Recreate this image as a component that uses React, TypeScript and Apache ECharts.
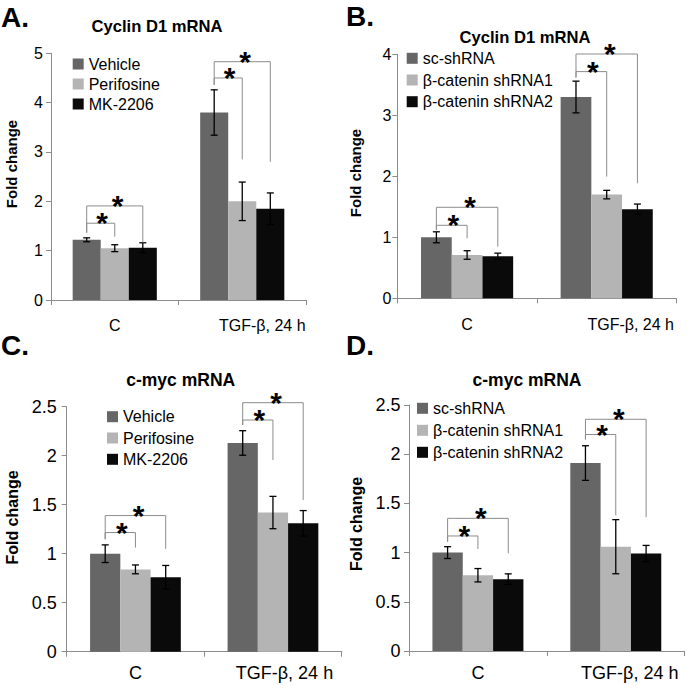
import React, { useEffect, useRef } from "react";
import * as echarts from "echarts";

// ---------- data ----------
const categories = ["C", "TGF-β, 24 h"];

const namesAC = ["Vehicle", "Perifosine", "MK-2206"];
const namesBD = ["sc-shRNA", "β-catenin shRNA1", "β-catenin shRNA2"];

// Panel A: Cyclin D1 mRNA (Akt inhibitors)
const aVehicle = [1.22, 3.8];
const aVehicleErr = [0.04, 0.46];
const aPerifosine = [1.05, 2.0];
const aPerifosineErr = [0.07, 0.39];
const aMK2206 = [1.06, 1.85];
const aMK2206Err = [0.1, 0.32];
// [category, fromBar, toBar, leftBottom, level, rightBottom]
const aBrackets = [
  [0, 0, 1, 1.365, 1.556, 1.284],
  [0, 0, 2, 1.365, 1.907, 1.162],
  [1, 0, 1, 4.36, 4.5, 2.85],
  [1, 0, 2, 4.36, 4.83, 2.8],
];

// Panel B: Cyclin D1 mRNA (beta-catenin shRNA)
const bSc = [1.0, 3.3];
const bScErr = [0.09, 0.26];
const bSh1 = [0.71, 1.7];
const bSh1Err = [0.07, 0.07];
const bSh2 = [0.69, 1.46];
const bSh2Err = [0.05, 0.085];
const bBrackets = [
  [0, 0, 1, 1.12, 1.197, 0.984],
  [0, 0, 2, 1.12, 1.492, 0.847],
  [1, 0, 1, 3.62, 3.716, 1.995],
  [1, 0, 2, 3.62, 4.005, 1.885],
];

// Panel C: c-myc mRNA (Akt inhibitors)
const cVehicle = [1.0, 2.13];
const cVehicleErr = [0.09, 0.125];
const cPerifosine = [0.84, 1.42];
const cPerifosineErr = [0.045, 0.165];
const cMK2206 = [0.76, 1.31];
const cMK2206Err = [0.12, 0.13];
const cBrackets = [
  [0, 0, 1, 1.148, 1.216, 1.062],
  [0, 0, 2, 1.148, 1.389, 1.049],
  [1, 0, 1, 2.313, 2.364, 1.956],
  [1, 0, 2, 2.313, 2.541, 1.548],
];

// Panel D: c-myc mRNA (beta-catenin shRNA)
const dSc = [1.0, 1.91];
const dScErr = [0.06, 0.176];
const dSh1 = [0.77, 1.06];
const dSh1Err = [0.068, 0.275];
const dSh2 = [0.73, 0.99];
const dSh2Err = [0.054, 0.083];
const dBrackets = [
  [0, 0, 1, 1.111, 1.169, 1.037],
  [0, 0, 2, 1.111, 1.348, 0.993],
  [1, 0, 1, 2.15, 2.2, 1.38],
  [1, 0, 2, 2.15, 2.355, 1.36],
];

const yMaxA = 5, yStepA = 1;
const yMaxB = 4, yStepB = 1;
const yMaxC = 2.5, yStepC = 0.5;
const yMaxD = 2.5, yStepD = 0.5;

// ---------- styling / layout ----------
const FONT = '"Liberation Sans", Arial, Helvetica, sans-serif';
const COLORS = ["#666666", "#b4b4b4", "#0a0a0a"];
const AX = "#8c8c8c";
const BAR_FRAC = 0.22;

const panels = [
  {
    label: "A.", labelPos: [1, 17], title: "Cyclin D1 mRNA", titlePos: [157, 26.5], titleFont: 16.6,
    yNamePos: [11.5, 164], yNameFont: 15,
    grid: [51, 53.3, 255, 246.7], max: yMaxA, interval: yStepA, tickFont: 16, yMargin: 8, xMargin: 17, tgfShift: 40,
    legend: [72.7, 56, 4],
    names: namesAC, values: [aVehicle, aPerifosine, aMK2206], errs: [aVehicleErr, aPerifosineErr, aMK2206Err], brackets: aBrackets,
  },
  {
    label: "B.", labelPos: [346, 16.5], title: "Cyclin D1 mRNA", titlePos: [525, 37], titleFont: 16.6,
    yNamePos: [355, 173], yNameFont: 15,
    grid: [397.3, 54.3, 279.2, 244], max: yMaxB, interval: yStepB, tickFont: 16, yMargin: 6, xMargin: 18, tgfShift: 48,
    legend: [406.7, 50.3, 5.7],
    names: namesBD, values: [bSc, bSh1, bSh2], errs: [bScErr, bSh1Err, bSh2Err], brackets: bBrackets,
  },
  {
    label: "C.", labelPos: [1, 345.5], title: "c-myc mRNA", titlePos: [180.7, 379.7], titleFont: 17.5,
    yNamePos: [12, 517.5], yNameFont: 16,
    grid: [66.7, 406.7, 275, 245], max: yMaxC, interval: yStepC, tickFont: 18, yMargin: 10, xMargin: 12, tgfShift: 23,
    legend: [107, 408.7, 5.3],
    names: namesAC, values: [cVehicle, cPerifosine, cMK2206], errs: [cVehicleErr, cPerifosineErr, cMK2206Err], brackets: cBrackets,
  },
  {
    label: "D.", labelPos: [346, 345.5], title: "c-myc mRNA", titlePos: [527, 380], titleFont: 17.5,
    yNamePos: [356.7, 524], yNameFont: 16,
    grid: [409, 405, 275.7, 246], max: yMaxD, interval: yStepD, tickFont: 18, yMargin: 8.5, xMargin: 13, tgfShift: 28,
    legend: [417, 400.3, 6],
    names: namesBD, values: [dSc, dSh1, dSh2], errs: [dScErr, dSh1Err, dSh2Err], brackets: dBrackets,
  },
];

function renderError(params: any, api: any) {
  const c = api.value(0);
  const i = api.value(1);
  const v = api.value(2);
  const e = api.value(3);
  const band = api.size([1, 0])[0];
  const bw = band * BAR_FRAC;
  const x = api.coord([c, v])[0] + (i - 1) * bw;
  const y1 = api.coord([c, v + e])[1];
  const y2 = api.coord([c, v - e])[1];
  const cap = 3.5;
  const style = { stroke: "#000", lineWidth: 1.3 };
  return {
    type: "group",
    children: [
      { type: "line", shape: { x1: x, y1: y1, x2: x, y2: y2 }, style },
      { type: "line", shape: { x1: x - cap, y1: y1, x2: x + cap, y2: y1 }, style },
      { type: "line", shape: { x1: x - cap, y1: y2, x2: x + cap, y2: y2 }, style },
    ],
  };
}

function renderBracket(params: any, api: any) {
  const c = api.value(0);
  const from = api.value(1);
  const to = api.value(2);
  const lb = api.value(3);
  const lv = api.value(4);
  const rb = api.value(5);
  const band = api.size([1, 0])[0];
  const bw = band * BAR_FRAC;
  const cx = api.coord([c, lv])[0];
  const x0 = cx + (from - 1) * bw;
  const x1 = cx + (to - 1) * bw;
  const yl = api.coord([c, lb])[1];
  const yv = api.coord([c, lv])[1];
  const yr = api.coord([c, rb])[1];
  return {
    type: "group",
    children: [
      {
        type: "polyline",
        shape: { points: [[x0, yl], [x0, yv], [x1, yv], [x1, yr]] },
        style: { stroke: AX, lineWidth: 1, fill: "none" },
      },
      {
        type: "text",
        x: x0 + 0.55 * (x1 - x0),
        y: yv - 0.5,
        style: {
          text: "*",
          font: `bold 30px ${FONT}`,
          fill: "#000",
          align: "center",
          verticalAlign: "middle",
        },
      },
    ],
  };
}

function buildOption() {
  const series: any[] = [];
  panels.forEach((p, i) => {
    p.names.forEach((n, k) => {
      series.push({
        type: "bar",
        name: n,
        xAxisIndex: i,
        yAxisIndex: i,
        data: p.values[k],
        barWidth: `${BAR_FRAC * 100}%`,
        barGap: "0%",
        itemStyle: { color: COLORS[k] },
        z: 2,
      });
    });
    const errData: number[][] = [];
    p.values.forEach((vals, k) => {
      vals.forEach((v, c) => errData.push([c, k, v, p.errs[k][c]]));
    });
    series.push({
      type: "custom",
      xAxisIndex: i,
      yAxisIndex: i,
      renderItem: renderError,
      data: errData,
      encode: { x: 0, y: 2 },
      z: 4,
      silent: true,
    });
    series.push({
      type: "custom",
      xAxisIndex: i,
      yAxisIndex: i,
      renderItem: renderBracket,
      data: p.brackets,
      encode: { x: 0, y: 4 },
      z: 4,
      silent: true,
    });
  });

  const graphic: any[] = [];
  panels.forEach((p) => {
    graphic.push({
      type: "text",
      x: p.labelPos[0],
      y: p.labelPos[1],
      style: { text: p.label, font: `bold 28px ${FONT}`, fill: "#000", align: "left", verticalAlign: "middle" },
    });
    graphic.push({
      type: "text",
      x: p.titlePos[0],
      y: p.titlePos[1],
      style: { text: p.title, font: `bold ${p.titleFont}px ${FONT}`, fill: "#000", align: "center", verticalAlign: "middle" },
    });
    graphic.push({
      type: "text",
      x: p.yNamePos[0],
      y: p.yNamePos[1],
      rotation: Math.PI / 2,
      style: { text: "Fold change", font: `bold ${p.yNameFont}px ${FONT}`, fill: "#000", align: "center", verticalAlign: "middle" },
    });
  });

  return {
    animation: false,
    backgroundColor: "#ffffff",
    textStyle: { fontFamily: FONT },
    grid: panels.map((p) => ({
      left: p.grid[0],
      top: p.grid[1],
      width: p.grid[2],
      height: p.grid[3],
      outerBoundsMode: "none",
    })),
    xAxis: panels.map((p, i) => ({
      type: "category",
      gridIndex: i,
      data: categories.map((c, ci) =>
        ci === 1 ? { value: c, textStyle: { padding: [0, 0, 0, p.tgfShift] } } : c
      ),
      axisLine: { show: true, lineStyle: { color: AX, width: 1 } },
      axisTick: { show: true, length: 5, lineStyle: { color: AX } },
      axisLabel: { fontSize: p.tickFont, color: "#000", margin: p.xMargin, fontFamily: FONT },
      splitLine: { show: false },
    })),
    yAxis: panels.map((p, i) => ({
      type: "value",
      gridIndex: i,
      min: 0,
      max: p.max,
      interval: p.interval,
      axisLine: { show: true, lineStyle: { color: AX, width: 1 } },
      axisTick: { show: true, length: 5, lineStyle: { color: AX } },
      splitLine: { show: false },
      axisLabel: { fontSize: p.tickFont, color: "#000", margin: p.yMargin, fontFamily: FONT },
    })),
    legend: panels.map((p) => ({
      orient: "vertical",
      left: p.legend[0],
      top: p.legend[1],
      itemGap: p.legend[2],
      itemWidth: 11,
      itemHeight: 11,
      padding: 0,
      icon: "rect",
      selectedMode: false,
      data: p.names,
      textStyle: { fontSize: 16, color: "#000", fontFamily: FONT },
    })),
    series,
    graphic,
  };
}

export default function App() {
  const ref = useRef<HTMLDivElement>(null);
  useEffect(() => {
    if (!ref.current) return;
    const chart = echarts.init(ref.current, null, { renderer: "svg" });
    chart.setOption(buildOption() as any);
    return () => chart.dispose();
  }, []);
  return (
    <div
      ref={ref}
      style={{ position: "absolute", left: 0, top: 0, width: 689, height: 692, background: "#fff" }}
    />
  );
}
